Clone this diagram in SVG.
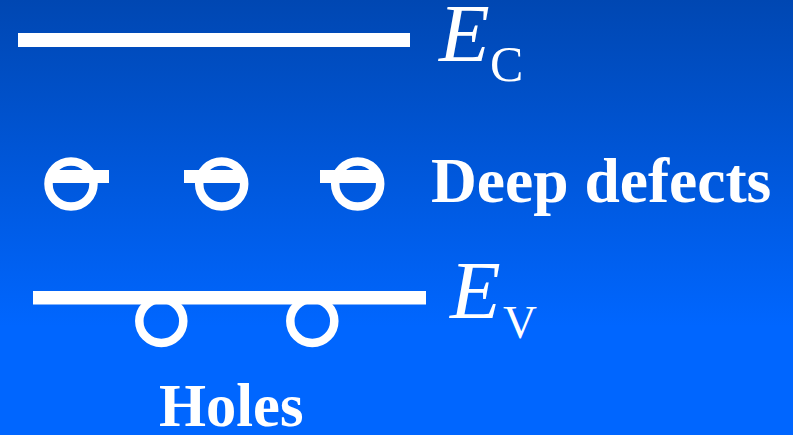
<svg xmlns="http://www.w3.org/2000/svg" width="793" height="435" viewBox="0 0 793 435">
<defs>
<linearGradient id="bg" x1="0" y1="0" x2="0" y2="1">
<stop offset="0" stop-color="#0047b2"/>
<stop offset="0.75" stop-color="#0066ff"/>
<stop offset="1" stop-color="#0066ff"/>
</linearGradient>
<style>
.lvl{fill:#fff}
.ring{fill:none;stroke:#fff;stroke-width:8.5}
.bar{fill:#fff}
.it{font-family:"Liberation Serif","Times New Roman",serif;font-style:italic;fill:#fff}
.rm{font-family:"Liberation Serif","Times New Roman",serif;fill:#fff}
.bd{font-family:"Liberation Serif","Times New Roman",serif;font-weight:bold;fill:#fff}
</style>
</defs>
<rect width="793" height="435" fill="url(#bg)"/>
<g id="ec-level">
<rect class="lvl" x="18" y="33" width="392" height="14"/>
<text class="it" x="439" y="61" font-size="83">E</text>
<text class="rm" x="490" y="81" font-size="50">C</text>
</g>
<g id="deep-defects">
<g id="defect1">
<circle class="ring" cx="71" cy="184" r="22.5"/>
<rect class="bar" x="52" y="170" width="57" height="13"/>
</g>
<g id="defect2">
<circle class="ring" cx="221.7" cy="184" r="22.5"/>
<rect class="bar" x="184" y="170" width="57" height="13"/>
</g>
<g id="defect3">
<circle class="ring" cx="357.7" cy="184" r="22.5"/>
<rect class="bar" x="320" y="170" width="57" height="13"/>
</g>
<text class="bd" x="431" y="202" font-size="63.5">Deep defects</text>
</g>
<g id="ev-level">
<circle class="ring" cx="161.3" cy="321" r="22"/>
<circle class="ring" cx="312.3" cy="321" r="22"/>
<rect class="lvl" x="33" y="291" width="393" height="13.5"/>
<text class="it" x="450" y="318" font-size="83">E</text>
<text class="rm" x="503" y="338" font-size="47">V</text>
</g>
<g id="holes">
<text class="bd" x="159" y="426" font-size="60.5">Holes</text>
</g>
<g id="connectors"/>
</svg>
